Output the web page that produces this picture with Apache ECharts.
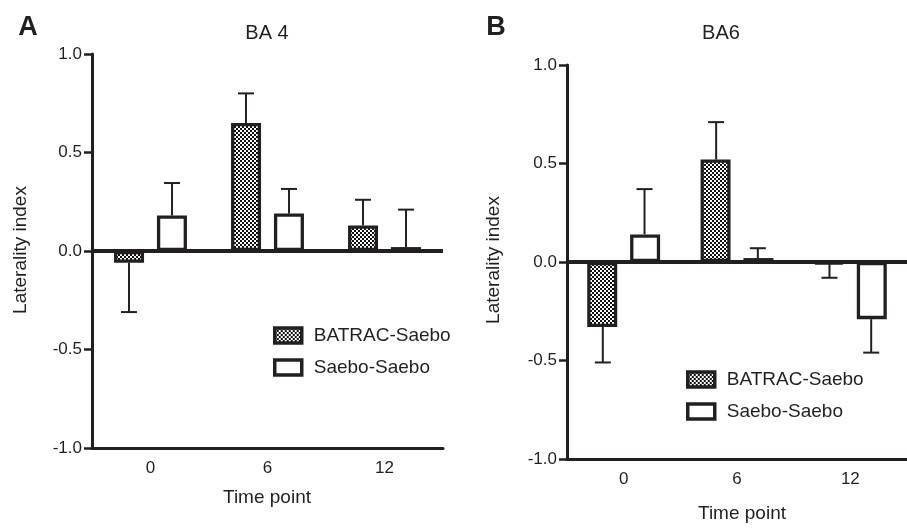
<!DOCTYPE html>
<html>
<head>
<meta charset="utf-8">
<script src="https://cdn.jsdelivr.net/npm/echarts@6/dist/echarts.min.js"></script>
<style>
html,body{margin:0;padding:0;background:#fff;}
#chart{width:907px;height:531px;}
</style>
</head>
<body>
<div id="chart"></div>
<script>
// ---- data ----
const categories = ['0', '6', '12'];
const yTicks = [-1.0, -0.5, 0.0, 0.5, 1.0];
const seriesNames = ['BATRAC-Saebo', 'Saebo-Saebo'];
// Panel A: BA 4
const ba4Batrac = [-0.06, 0.65, 0.13];
const ba4BatracErr = [0.25, 0.15, 0.13];
const ba4Saebo = [0.18, 0.19, 0.02];
const ba4SaeboErr = [0.165, 0.125, 0.19];
// Panel B: BA6
const ba6Batrac = [-0.33, 0.52, -0.01];
const ba6BatracErr = [0.18, 0.19, 0.07];
const ba6Saebo = [0.14, 0.02, -0.29];
const ba6SaeboErr = [0.23, 0.05, 0.17];

const INK = '#231f20';
const FONT = 'Liberation Sans, Arial, Helvetica, sans-serif';

// checker pattern
const pc = document.createElement('canvas');
pc.width = 4; pc.height = 4;
const g = pc.getContext('2d');
g.fillStyle = '#fff'; g.fillRect(0, 0, 4, 4);
g.fillStyle = '#111'; g.fillRect(0, 0, 2, 2); g.fillRect(2, 2, 2, 2);
const checker = { image: pc, repeat: 'repeat' };

function barSeries(name, idx, data, fill) {
  const s = {
    name: name, type: 'bar', xAxisIndex: idx, yAxisIndex: idx, data: data,
    barWidth: 30, barGap: '43%',
    itemStyle: { color: fill, borderColor: INK, borderWidth: 3.3 },
    emphasis: { disabled: true },
    z: 2
  };
  if (name === seriesNames[1]) {
    s.markLine = {
      silent: true, symbol: 'none', label: { show: false },
      lineStyle: { color: INK, width: 4, type: 'solid' },
      data: [{ yAxis: 0 }],
      animation: false
    };
  }
  return s;
}

function errSeries(idx, means, errs, side) {
  return {
    type: 'custom', xAxisIndex: idx, yAxisIndex: idx, z: 1,
    data: means.map((m, i) => [i, m, m + (m < 0 ? -1 : 1) * errs[i]]),
    encode: { x: 0, y: [1, 2] },
    renderItem: function (params, api) {
      const c = api.coord([api.value(0), api.value(1)]);
      const e = api.coord([api.value(0), api.value(2)]);
      const band = api.size([1, 0])[0];
      const x = c[0] + side * band * 0.184;
      const st = { stroke: INK, lineWidth: 2 };
      return {
        type: 'group', children: [
          { type: 'line', shape: { x1: x, y1: c[1], x2: x, y2: e[1] }, style: st },
          { type: 'line', shape: { x1: x - 8, y1: e[1], x2: x + 8, y2: e[1] }, style: st }
        ]
      };
    }
  };
}

function xAxis(idx) {
  return {
    type: 'category', gridIndex: idx, data: categories, boundaryGap: true,
    axisLine: { onZero: false, lineStyle: { color: INK, width: 3 } },
    axisTick: { alignWithLabel: true, length: 8, lineStyle: { color: INK, width: 3 } },
    axisLabel: { color: INK, fontSize: 17, fontFamily: FONT, margin: 12 },
    splitLine: { show: false }
  };
}
function yAxis(idx) {
  return {
    type: 'value', gridIndex: idx, min: yTicks[0], max: yTicks[yTicks.length - 1], interval: 0.5,
    axisLine: { show: true, lineStyle: { color: INK, width: 3 } },
    axisTick: { show: true, length: 8, lineStyle: { color: INK, width: 2.5 } },
    axisLabel: { color: INK, fontSize: 17, fontFamily: FONT, margin: 10, formatter: v => v.toFixed(1) },
    splitLine: { show: false }
  };
}
function legend(left, top) {
  return {
    orient: 'vertical', left: left, top: top, data: seriesNames, padding: 0,
    icon: 'rect',
    itemWidth: 27, itemHeight: 15, itemGap: 13, selectedMode: false,
    itemStyle: { borderColor: INK, borderWidth: 3.5 },
    textStyle: { color: INK, fontSize: 19, fontFamily: FONT, padding: [0, 0, 0, 7] }
  };
}
function txt(x, y, text, size, bold, rot) {
  return {
    type: 'text', x: x, y: y, rotation: rot || 0,
    style: { text: text, fill: INK, font: (bold ? 'bold ' : '') + size + 'px ' + FONT, align: 'center', verticalAlign: 'middle' }
  };
}

const chart = echarts.init(document.getElementById('chart'));
chart.setOption({
  animation: false,
  backgroundColor: '#fff',
  grid: [
    { left: 92, top: 54, width: 351, height: 394 },
    { left: 567, top: 65, width: 351, height: 394 }
  ],
  xAxis: [xAxis(0), xAxis(1)],
  yAxis: [yAxis(0), yAxis(1)],
  legend: [legend(273, 326), legend(686, 370)],
  graphic: [
    txt(28, 28, 'A', 27, true),
    txt(496, 28, 'B', 27, true),
    txt(267, 33, 'BA 4', 20, false),
    txt(721, 33, 'BA6', 20, false),
    txt(267, 498, 'Time point', 19, false),
    txt(742, 514, 'Time point', 19, false),
    txt(21, 250, 'Laterality index', 19, false, Math.PI / 2),
    txt(494, 260, 'Laterality index', 19, false, Math.PI / 2)
  ],
  series: [
    barSeries(seriesNames[0], 0, ba4Batrac, checker),
    barSeries(seriesNames[1], 0, ba4Saebo, '#fff'),
    errSeries(0, ba4Batrac, ba4BatracErr, -1),
    errSeries(0, ba4Saebo, ba4SaeboErr, 1),
    barSeries(seriesNames[0], 1, ba6Batrac, checker),
    barSeries(seriesNames[1], 1, ba6Saebo, '#fff'),
    errSeries(1, ba6Batrac, ba6BatracErr, -1),
    errSeries(1, ba6Saebo, ba6SaeboErr, 1)
  ]
});
</script>
</body>
</html>
